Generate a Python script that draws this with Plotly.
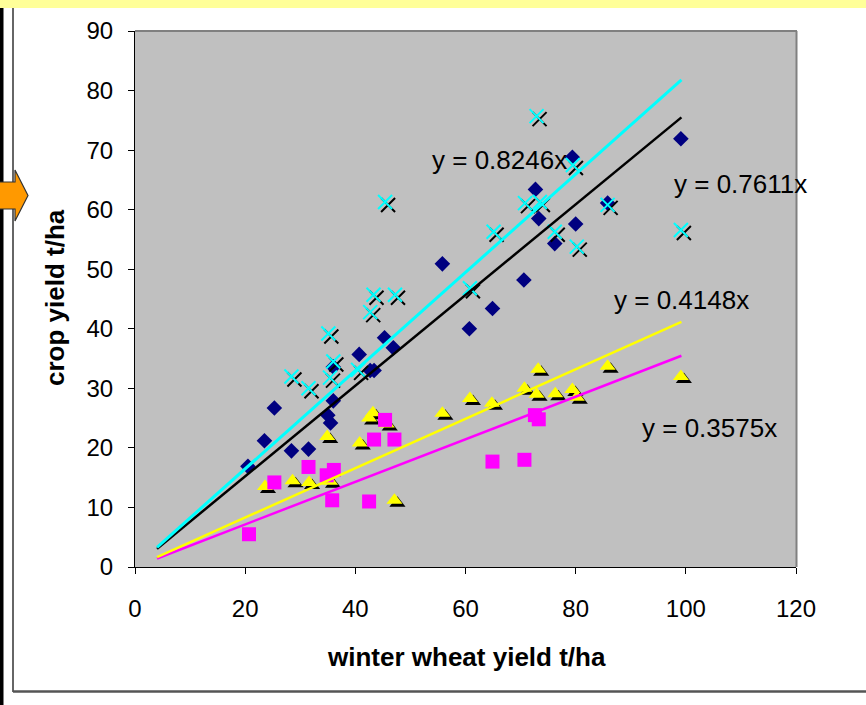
import plotly.graph_objects as go

# ---------------- data ----------------
diamond_x = [20.5, 23.5, 25.3, 28.4, 31.5, 35.0, 35.5, 36.0, 36.0, 40.7, 42.7, 43.4, 45.3,
             46.9, 55.8, 60.7, 64.9, 70.6, 72.7, 73.3, 76.2, 79.4, 80.0, 85.8, 99.1]
diamond_y = [16.9, 21.2, 26.7, 19.5, 19.8, 25.5, 24.2, 27.9, 33.6, 35.7, 33.0, 33.0, 38.5,
             36.8, 50.9, 40.0, 43.4, 48.2, 63.4, 58.5, 54.3, 68.8, 57.6, 61.1, 71.9]

cross_x = [28.4, 31.5, 35.1, 35.4, 36.0, 40.5, 42.7, 43.3, 45.4, 47.2, 60.8, 65.1, 70.8,
           72.9, 73.5, 76.2, 79.5, 80.2, 85.8, 99.1]
cross_y = [32.0, 30.0, 39.2, 31.8, 34.5, 33.1, 42.8, 45.7, 61.3, 45.7, 46.8, 56.3, 61.1,
           75.7, 61.3, 56.3, 67.5, 53.8, 60.8, 56.6]

tri_x = [23.6, 28.6, 31.6, 34.9, 35.4, 40.8, 42.5, 43.2, 45.7, 47.1, 55.8, 60.8, 64.8,
         70.7, 72.9, 73.2, 76.3, 79.4, 80.2, 85.8, 99.1]
tri_y = [13.5, 14.5, 14.2, 21.9, 14.4, 20.8, 25.0, 25.9, 24.0, 11.2, 25.8, 28.3, 27.5,
         30.0, 29.0, 33.2, 29.1, 29.8, 28.5, 33.7, 32.0]

sq_x = [20.7, 25.3, 31.5, 34.8, 36.1, 35.8, 42.5, 43.4, 45.4, 47.1, 64.9, 70.7, 72.6, 73.3]
sq_y = [5.5, 14.2, 16.8, 15.4, 16.3, 11.2, 11.0, 21.4, 24.7, 21.4, 17.7, 18.0, 25.5, 24.8]

slope_diamond = 0.7611
slope_cross = 0.8246
slope_tri = 0.4148
slope_sq = 0.3575
trend_x = [4.0, 99.2]

x_ticks = [0, 20, 40, 60, 80, 100, 120]
y_ticks = [0, 10, 20, 30, 40, 50, 60, 70, 80, 90]

# ---------------- geometry helpers ----------------
W, H = 866, 705
L, R, T, B = 135, 796, 31, 567
XMAX, YMAX = 120, 90


def px(x):
    return (x - L) / (R - L)


def py(y):
    return (B - y) / (B - T)


# shadow offset (pixels) converted to data units
SH = 3
sdx = SH * XMAX / (R - L)
sdy = SH * YMAX / (B - T)

FONT = "Liberation Sans, Arial, sans-serif"

fig = go.Figure()

# diamonds
fig.add_trace(go.Scatter(x=diamond_x, y=diamond_y, mode="markers",
                         marker=dict(symbol="diamond", size=12, color="#000080",
                                     line=dict(width=0))))
# crosses: black shadow + cyan
fig.add_trace(go.Scatter(x=[v + sdx for v in cross_x], y=[v - sdy for v in cross_y], mode="markers",
                         marker=dict(symbol="x-thin-open", size=14, color="black",
                                     line=dict(width=2, color="black"))))
fig.add_trace(go.Scatter(x=cross_x, y=cross_y, mode="markers",
                         marker=dict(symbol="x-thin-open", size=14, color="#00FFFF",
                                     line=dict(width=2, color="#00FFFF"))))
# triangles: black shadow + yellow
fig.add_trace(go.Scatter(x=[v + sdx for v in tri_x], y=[v - sdy for v in tri_y], mode="markers",
                         marker=dict(symbol="triangle-up", size=14, color="black",
                                     line=dict(width=0))))
fig.add_trace(go.Scatter(x=tri_x, y=tri_y, mode="markers",
                         marker=dict(symbol="triangle-up", size=14, color="#FFFF00",
                                     line=dict(width=0))))
# squares
fig.add_trace(go.Scatter(x=sq_x, y=sq_y, mode="markers",
                         marker=dict(symbol="square", size=14, color="#FF00FF",
                                     line=dict(width=0))))

# trend lines
for slope, col, w in [(slope_sq, "#FF00FF", 2.5), (slope_tri, "#FFFF00", 2.5),
                      (slope_diamond, "#000000", 2.5), (slope_cross, "#00FFFF", 3)]:
    fig.add_trace(go.Scatter(x=trend_x, y=[slope * v for v in trend_x], mode="lines",
                             line=dict(color=col, width=w)))

# equation labels
labels = [
    (f"y = {slope_cross}x", 53.6, 68.3),
    (f"y = {slope_diamond}x", 97.5, 64.3),
    (f"y = {slope_tri}x", 86.6, 44.8),
    (f"y = {slope_sq}x", 91.7, 23.3),
]
ann = []
for txt, ax_, ay_ in labels:
    ann.append(dict(text=txt, x=ax_, y=ay_, xref="x", yref="y", xanchor="left",
                    yanchor="middle", showarrow=False,
                    font=dict(family=FONT, size=26, color="black")))

# axis titles
ann.append(dict(text="<b>winter wheat yield t/ha</b>", x=px(466), y=py(657), xref="paper",
                yref="paper", xanchor="center", yanchor="middle", showarrow=False,
                font=dict(family=FONT, size=26, color="black")))
ann.append(dict(text="<b>crop yield t/ha</b>", x=px(55), y=py(298), xref="paper",
                yref="paper", xanchor="center", yanchor="middle", showarrow=False,
                textangle=-90, font=dict(family=FONT, size=26, color="black")))

shapes = [
    # yellow band at top
    dict(type="rect", xref="paper", yref="paper", x0=px(0), x1=px(W), y0=py(8), y1=py(0),
         fillcolor="#FFFF99", line=dict(width=0), layer="above"),
    # thick black line at far left
    dict(type="rect", xref="paper", yref="paper", x0=px(0), x1=px(3.5), y0=py(H), y1=py(8),
         fillcolor="#000000", line=dict(width=0), layer="above"),
    # chart frame: left and bottom
    dict(type="line", xref="paper", yref="paper", x0=px(13), x1=px(13), y0=py(8), y1=py(692),
         line=dict(color="#333333", width=1.5), layer="above"),
    dict(type="line", xref="paper", yref="paper", x0=px(13), x1=px(W), y0=py(691.5), y1=py(691.5),
         line=dict(color="#555555", width=2.5), layer="above"),
    # plot area top and right border
    dict(type="line", xref="paper", yref="paper", x0=px(135), x1=px(797), y0=py(31), y1=py(31),
         line=dict(color="#808080", width=2), layer="above"),
    dict(type="line", xref="paper", yref="paper", x0=px(796.5), x1=px(796.5), y0=py(31), y1=py(567),
         line=dict(color="#808080", width=2), layer="above"),
]

# orange arrow
pts = [(-2, 182), (15, 182), (15, 170), (28, 195.5), (15, 221), (15, 209), (-2, 209)]
path = "M " + " L ".join(f"{px(a):.5f},{py(b):.5f}" for a, b in pts) + " Z"
shapes.append(dict(type="path", xref="paper", yref="paper", path=path,
                   fillcolor="#FF9900", line=dict(color="#333333", width=1.2), layer="above"))

fig.update_layout(
    width=W, height=H, autosize=False,
    margin=dict(l=L, r=W - R, t=T, b=H - B, pad=0),
    paper_bgcolor="white", plot_bgcolor="#C0C0C0",
    showlegend=False, hovermode=False,
    annotations=ann, shapes=shapes,
    font=dict(family=FONT, color="black"),
)
fig.update_xaxes(range=[0, XMAX], tickvals=x_ticks, ticks="outside", ticklen=6, tickwidth=1,
                 tickcolor="black", showline=True, linecolor="black", linewidth=1,
                 showgrid=False, zeroline=False, tickfont=dict(family=FONT, size=24),
                 ticklabelstandoff=14)
fig.update_yaxes(range=[0, YMAX], tickvals=y_ticks, ticks="outside", ticklen=6, tickwidth=1,
                 tickcolor="black", showline=True, linecolor="black", linewidth=1,
                 showgrid=False, zeroline=False, tickfont=dict(family=FONT, size=24),
                 ticklabelstandoff=10)

fig.write_html("out.html", config={"displayModeBar": False},
               post_script="document.body.style.margin='0px';document.body.style.overflow='hidden';")
